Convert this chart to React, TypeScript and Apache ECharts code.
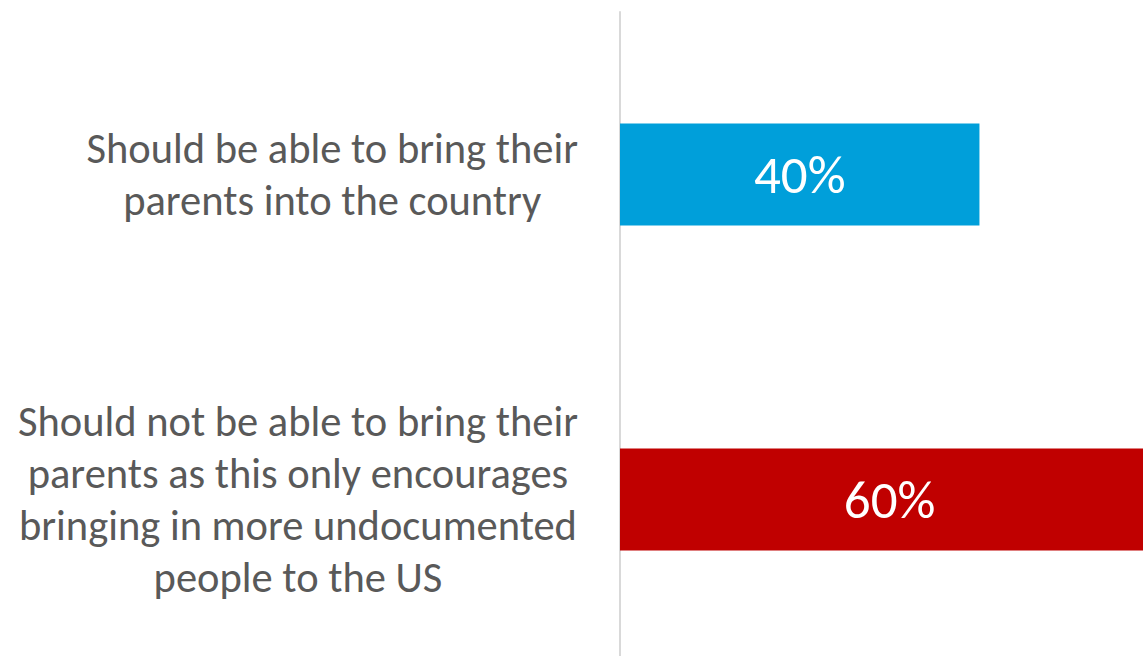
import React, { useEffect, useRef } from "react";
import * as echarts from "echarts";

const categories: string[] = [
  "Should be able to bring their\nparents into the country",
  "Should not be able to bring their\nparents as this only encourages\nbringing in more undocumented\npeople to the US",
];
const values: number[] = [40, 60];
const barColors: string[] = ["#009FDA", "#C00000"];

const FONT = "Carlito, Lato, 'Noto Sans', sans-serif";

export default function App() {
  const ref = useRef<HTMLDivElement>(null);
  useEffect(() => {
    if (!ref.current) return;
    const chart = echarts.init(ref.current, null, { renderer: "svg" });
    chart.setOption({
      animation: false,
      grid: { left: 620, top: 12, right: 0, bottom: 0, containLabel: false },
      xAxis: {
        type: "value",
        min: 0,
        max: 58.2,
        show: false,
      },
      yAxis: {
        type: "category",
        inverse: true,
        data: categories,
        axisLine: { show: true, lineStyle: { color: "#D9D9D9", width: 2 } },
        axisTick: { show: false },
        splitLine: { show: false },
        axisLabel: {
          margin: 42,
          align: "right",
          formatter: (v: string) =>
            v
              .split("\n")
              .map((l) => `{c|${l}}`)
              .join("\n"),
          rich: {
            c: {
              align: "center",
              fontFamily: FONT,
              fontSize: 42.5,
              lineHeight: 52,
              color: "#595959",
            },
          },
        },
      },
      series: [
        {
          type: "bar",
          barWidth: 102,
          clip: false,
          data: values.map((v, i) => ({ value: v, itemStyle: { color: barColors[i] } })),
          label: {
            show: true,
            position: "inside",
            formatter: "{c}%",
            color: "#FFFFFF",
            fontFamily: FONT,
            fontSize: 53,
          },
        },
      ],
    });
    return () => chart.dispose();
  }, []);
  return <div ref={ref} style={{ width: 1143, height: 662, position: "fixed", left: 0, top: 0, background: "#fff" }} />;
}
